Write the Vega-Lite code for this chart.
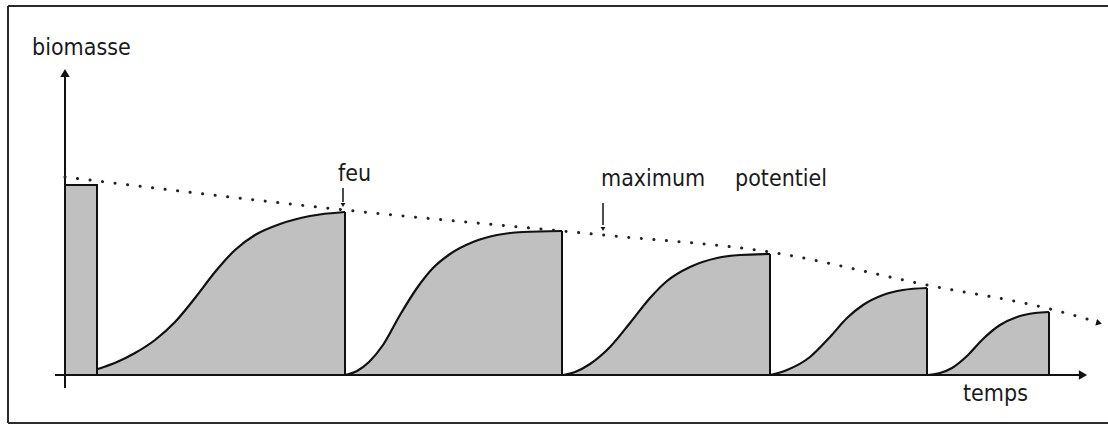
{
  "$schema": "https://vega.github.io/schema/vega-lite/v6.json",
  "width": 1108,
  "height": 424,
  "padding": 0,
  "autosize": "none",
  "background": "white",
  "config": {"view": {"stroke": null}},
  "datasets": {
    "curves": [
      {"c": 1, "t": 3.3, "b": 0.6}, {"c": 1, "t": 5.2, "b": 1.3}, {"c": 1, "t": 7.0, "b": 2.2}, {"c": 1, "t": 9.0, "b": 3.5}, {"c": 1, "t": 11.0, "b": 5.3}, {"c": 1, "t": 13.0, "b": 7.7}, {"c": 1, "t": 15.0, "b": 10.3}, {"c": 1, "t": 17.0, "b": 12.5}, {"c": 1, "t": 19.0, "b": 14.0}, {"c": 1, "t": 21.5, "b": 15.1}, {"c": 1, "t": 24.5, "b": 15.9}, {"c": 1, "t": 28.0, "b": 16.3},
      {"c": 2, "t": 28.0, "b": 0}, {"c": 2, "t": 29.2, "b": 0.4}, {"c": 2, "t": 30.4, "b": 1.3}, {"c": 2, "t": 31.8, "b": 3.0}, {"c": 2, "t": 33.5, "b": 6.0}, {"c": 2, "t": 35.2, "b": 8.7}, {"c": 2, "t": 36.8, "b": 10.7}, {"c": 2, "t": 38.5, "b": 12.1}, {"c": 2, "t": 40.8, "b": 13.3}, {"c": 2, "t": 43.2, "b": 14.0}, {"c": 2, "t": 45.8, "b": 14.3}, {"c": 2, "t": 49.7, "b": 14.4},
      {"c": 3, "t": 49.8, "b": 0}, {"c": 3, "t": 51.0, "b": 0.3}, {"c": 3, "t": 52.5, "b": 1.1}, {"c": 3, "t": 54.5, "b": 2.8}, {"c": 3, "t": 56.5, "b": 5.2}, {"c": 3, "t": 58.5, "b": 7.7}, {"c": 3, "t": 60.2, "b": 9.4}, {"c": 3, "t": 62.5, "b": 10.8}, {"c": 3, "t": 65.2, "b": 11.7}, {"c": 3, "t": 67.5, "b": 12.0}, {"c": 3, "t": 70.5, "b": 12.1},
      {"c": 4, "t": 70.5, "b": 0}, {"c": 4, "t": 72.2, "b": 0.5}, {"c": 4, "t": 74.5, "b": 1.8}, {"c": 4, "t": 76.5, "b": 3.8}, {"c": 4, "t": 78.2, "b": 5.7}, {"c": 4, "t": 79.8, "b": 7.0}, {"c": 4, "t": 81.8, "b": 8.0}, {"c": 4, "t": 83.8, "b": 8.5}, {"c": 4, "t": 86.2, "b": 8.7},
      {"c": 5, "t": 86.3, "b": 0}, {"c": 5, "t": 87.5, "b": 0.2}, {"c": 5, "t": 88.7, "b": 0.7}, {"c": 5, "t": 90.2, "b": 1.9}, {"c": 5, "t": 91.8, "b": 3.6}, {"c": 5, "t": 93.5, "b": 5.0}, {"c": 5, "t": 95.2, "b": 5.8}, {"c": 5, "t": 97.0, "b": 6.2}, {"c": 5, "t": 98.4, "b": 6.3}
    ],
    "ends": [
      {"t": 28.0, "b": 16.3}, {"t": 49.7, "b": 14.4}, {"t": 70.5, "b": 12.1}, {"t": 86.2, "b": 8.7}, {"t": 98.4, "b": 6.3}
    ],
    "bar": [{"t": 0, "t2": 3.2, "b": 19.0}],
    "potential": [
      {"t": 0, "b": 19.8}, {"t": 28.0, "b": 16.5}, {"t": 53.8, "b": 14.0}, {"t": 70.5, "b": 12.3}, {"t": 86.2, "b": 9.0}, {"t": 98.5, "b": 6.6}, {"t": 102.9, "b": 5.4}
    ],
    "frame": [
      {"t": -5.7, "b": -4.8, "t2": -5.7, "b2": 36.9},
      {"t": -5.7, "b": 36.9, "t2": 104.3, "b2": 36.9},
      {"t": -5.7, "b": -4.8, "t2": 104.3, "b2": -4.8}
    ],
    "axes": [
      {"t": 0, "b": -1.3, "t2": 0, "b2": 30.0},
      {"t": -1.0, "b": 0, "t2": 101.5, "b2": 0}
    ],
    "pointers": [
      {"t": 27.8, "b": 18.7, "b2": 17.3},
      {"t": 53.8, "b": 17.2, "b2": 15.0}
    ],
    "pointerTips": [
      {"t": 27.8, "b": 17.0},
      {"t": 53.8, "b": 14.6}
    ],
    "labels": [
      {"t": -3.3, "b": 32.0, "label": "biomasse"},
      {"t": 27.3, "b": 19.4, "label": "feu"},
      {"t": 53.6, "b": 18.9, "label": "maximum"},
      {"t": 67.0, "b": 18.9, "label": "potentiel"},
      {"t": 89.8, "b": -2.6, "label": "temps"}
    ]
  },
  "layer": [
    {
      "data": {"name": "frame"},
      "mark": {"type": "rule", "stroke": "#2a2a2a", "strokeWidth": 2},
      "encoding": {
        "x": {"field": "t", "type": "quantitative", "scale": {"domain": [-6.5, 104.3], "nice": false, "zero": false}, "axis": null},
        "y": {"field": "b", "type": "quantitative", "scale": {"domain": [-4.9, 37.5], "nice": false, "zero": false}, "axis": null},
        "x2": {"field": "t2"},
        "y2": {"field": "b2"}
      }
    },
    {
      "data": {"name": "curves"},
      "mark": {"type": "area", "interpolate": "monotone", "fill": "#c0c0c0", "opacity": 1},
      "encoding": {
        "x": {"field": "t", "type": "quantitative"},
        "y": {"field": "b", "type": "quantitative"},
        "y2": {"datum": 0},
        "detail": {"field": "c"}
      }
    },
    {
      "data": {"name": "bar"},
      "mark": {"type": "rect", "fill": "#c0c0c0", "stroke": "#111111", "strokeWidth": 2},
      "encoding": {
        "x": {"field": "t", "type": "quantitative"},
        "x2": {"field": "t2"},
        "y": {"field": "b", "type": "quantitative"},
        "y2": {"datum": 0}
      }
    },
    {
      "data": {"name": "curves"},
      "mark": {"type": "line", "interpolate": "monotone", "stroke": "#111111", "strokeWidth": 2.2},
      "encoding": {
        "x": {"field": "t", "type": "quantitative"},
        "y": {"field": "b", "type": "quantitative"},
        "detail": {"field": "c"}
      }
    },
    {
      "data": {"name": "ends"},
      "mark": {"type": "rule", "stroke": "#111111", "strokeWidth": 2},
      "encoding": {
        "x": {"field": "t", "type": "quantitative"},
        "y": {"field": "b", "type": "quantitative"},
        "y2": {"datum": 0}
      }
    },
    {
      "data": {"name": "axes"},
      "mark": {"type": "rule", "stroke": "#111111", "strokeWidth": 2},
      "encoding": {
        "x": {"field": "t", "type": "quantitative"},
        "y": {"field": "b", "type": "quantitative"},
        "x2": {"field": "t2"},
        "y2": {"field": "b2"}
      }
    },
    {
      "data": {"values": [{"t": 0, "b": 30.2}]},
      "mark": {"type": "point", "shape": "triangle-up", "filled": true, "color": "#111111", "size": 90, "opacity": 1},
      "encoding": {
        "x": {"field": "t", "type": "quantitative"},
        "y": {"field": "b", "type": "quantitative"}
      }
    },
    {
      "data": {"values": [{"t": 101.8, "b": 0}]},
      "mark": {"type": "point", "shape": "triangle-right", "filled": true, "color": "#111111", "size": 90, "opacity": 1},
      "encoding": {
        "x": {"field": "t", "type": "quantitative"},
        "y": {"field": "b", "type": "quantitative"}
      }
    },
    {
      "data": {"name": "potential"},
      "mark": {"type": "line", "interpolate": "monotone", "stroke": "#222222", "strokeWidth": 3, "strokeDash": [0.1, 12.5], "strokeCap": "round"},
      "encoding": {
        "x": {"field": "t", "type": "quantitative"},
        "y": {"field": "b", "type": "quantitative"}
      }
    },
    {
      "data": {"values": [{"t": 103.4, "b": 5.2}]},
      "mark": {"type": "point", "shape": "triangle-right", "filled": true, "color": "#111111", "size": 45, "angle": 15, "opacity": 1},
      "encoding": {
        "x": {"field": "t", "type": "quantitative"},
        "y": {"field": "b", "type": "quantitative"}
      }
    },
    {
      "data": {"name": "pointers"},
      "mark": {"type": "rule", "stroke": "#111111", "strokeWidth": 1.5},
      "encoding": {
        "x": {"field": "t", "type": "quantitative"},
        "y": {"field": "b", "type": "quantitative"},
        "y2": {"field": "b2"}
      }
    },
    {
      "data": {"name": "pointerTips"},
      "mark": {"type": "point", "shape": "triangle-down", "filled": true, "color": "#111111", "size": 22, "opacity": 1},
      "encoding": {
        "x": {"field": "t", "type": "quantitative"},
        "y": {"field": "b", "type": "quantitative"}
      }
    },
    {
      "data": {"name": "labels"},
      "mark": {"type": "text", "align": "left", "baseline": "alphabetic", "font": "DejaVu Sans Condensed", "fontSize": 23, "fill": "#1a1a1a"},
      "encoding": {
        "x": {"field": "t", "type": "quantitative"},
        "y": {"field": "b", "type": "quantitative"},
        "text": {"field": "label"}
      }
    }
  ]
}
